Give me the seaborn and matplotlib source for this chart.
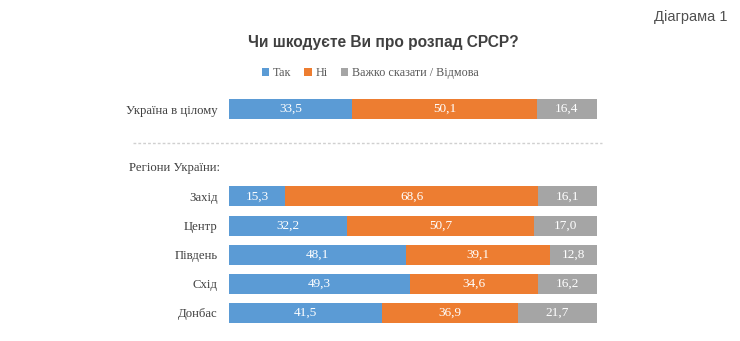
import matplotlib
matplotlib.use("Agg")
import matplotlib.pyplot as plt
from matplotlib.patches import Patch
from matplotlib.lines import Line2D
import pandas as pd
import seaborn as sns

# Survey answers (%), rows top to bottom
categories = ["Україна в цілому", "Захід", "Центр", "Південь", "Схід", "Донбас"]
tak = [33.5, 15.3, 32.2, 48.1, 49.3, 41.5]
ni = [50.1, 68.6, 50.7, 39.1, 34.6, 36.9]
vazhko = [16.4, 16.1, 17.0, 12.8, 16.2, 21.7]
series_names = ["Так", "Ні", "Важко сказати / Відмова"]
colors = ["#5B9BD5", "#ED7D31", "#A5A5A5"]

title = "Чи шкодуєте Ви про розпад СРСР?"
regions_label = "Регіони України:"
corner_label = "Діаграма 1"

# Two empty slots separate the national row from the regional block
gaps = ["_gap1", "_gap2"]
order = [categories[0]] + gaps + categories[1:]

df = pd.DataFrame({"cat": categories, "tak": tak, "ni": ni, "vazhko": vazhko})
df["end_tak"] = df["tak"]
df["end_ni"] = df["tak"] + df["ni"]
df["end_all"] = df["end_ni"] + df["vazhko"]

sns.set_theme(style="white")
plt.rcParams["font.family"] = ["Liberation Serif", "DejaVu Serif"]

fig = plt.figure(figsize=(7.4, 3.41), dpi=100)
ax = fig.add_axes([229 / 740, 1 - 327.5 / 341, (597 - 229) / 740, 233 / 341])

bar_w = 0.69
# Stack by drawing cumulative extents from widest to narrowest
for col, c in [("end_all", colors[2]), ("end_ni", colors[1]), ("end_tak", colors[0])]:
    sns.barplot(data=df, x=col, y="cat", order=order, orient="h", color=c,
                width=bar_w, saturation=1, linewidth=0, ax=ax)

ax.set_xlim(0, 100)
ax.set_ylim(len(order) - 0.5, -0.5)
ax.set_xlabel("")
ax.set_ylabel("")
ax.set_xticks([])
pos = [order.index(c) for c in categories]
ax.set_yticks(pos)
ax.set_yticklabels(categories, fontsize=9.2, color="#404040")
ax.tick_params(axis="y", length=0, pad=8)
for s in ax.spines.values():
    s.set_visible(False)

def fmt(v):
    return f"{v:.1f}".replace(".", ",")

for i, row in df.iterrows():
    y = order.index(row["cat"])
    starts = [0, row["end_tak"], row["end_ni"]]
    vals = [row["tak"], row["ni"], row["vazhko"]]
    for s0, v in zip(starts, vals):
        ax.text(s0 + v / 2, y, fmt(v), ha="center", va="center",
                color="white", fontsize=9.5)

# Dashed separator and the regional block heading
fig.add_artist(Line2D([133 / 740, 602 / 740], [1 - 143 / 341] * 2,
                      color="#D0D0D0", lw=1, ls=(0, (2, 1.5))))
fig.text(129 / 740, 1 - 168 / 341, regions_label, ha="left", va="center",
         fontsize=9.2, color="#404040")

fig.text(383 / 740, 1 - 42 / 341, title, ha="center", va="center",
         fontsize=11.2, fontweight="bold", color="#404040",
         family=["Liberation Sans", "DejaVu Sans"])
fig.text(728 / 740, 1 - 17 / 341, corner_label, ha="right", va="center",
         fontsize=10.5, color="#505050", family=["Liberation Sans", "DejaVu Sans"])

handles = [Patch(facecolor=c, edgecolor="none") for c in colors]
fig.legend(handles, series_names, loc="center", bbox_to_anchor=(370 / 740, 1 - 73 / 341),
           ncol=3, frameon=False, fontsize=8.7, handlelength=0.6, handleheight=0.6,
           handletextpad=0.3, columnspacing=1.1, labelcolor="#595959")

fig.savefig("out.png", dpi=100, facecolor="white")
